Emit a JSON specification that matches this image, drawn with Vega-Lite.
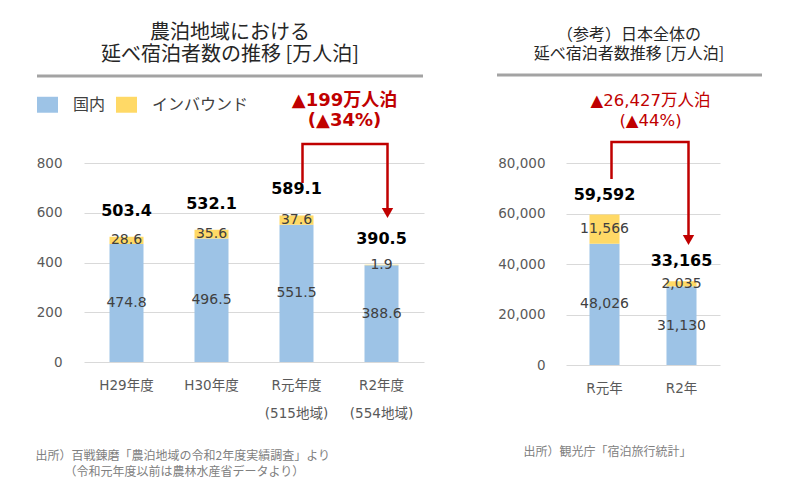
{
  "$schema": "https://vega.github.io/schema/vega-lite/v6.json",
  "padding": {"left": 35, "top": 22, "right": 5, "bottom": 5},
  "background": "white",
  "config": {
    "view": {"stroke": null},
    "font": "DejaVu Sans, Noto Sans CJK JP",
    "axis": {"domain": false, "ticks": false, "labelFont": "DejaVu Sans, Noto Sans CJK JP", "labelFontSize": 13.5, "labelColor": "#595959", "gridColor": "#D9D9D9", "gridWidth": 1.2}
  },
  "datasets": {
    "np": [
      {"cat": "H29年度", "type": "国内", "value": 474.8},
      {"cat": "H29年度", "type": "インバウンド", "value": 28.6},
      {"cat": "H30年度", "type": "国内", "value": 496.5},
      {"cat": "H30年度", "type": "インバウンド", "value": 35.6},
      {"cat": "R元年度|(515地域)", "type": "国内", "value": 551.5},
      {"cat": "R元年度|(515地域)", "type": "インバウンド", "value": 37.6},
      {"cat": "R2年度|(554地域)", "type": "国内", "value": 388.6},
      {"cat": "R2年度|(554地域)", "type": "インバウンド", "value": 1.9}
    ],
    "npArrow": [
      {"cat": "R元年度|(515地域)", "v": 720, "step": 1},
      {"cat": "R元年度|(515地域)", "v": 876, "step": 2},
      {"cat": "R2年度|(554地域)", "v": 876, "step": 3},
      {"cat": "R2年度|(554地域)", "v": 612, "step": 4}
    ],
    "npHead": [{"cat": "R2年度|(554地域)", "v": 599}],
    "npNote": [
      {"cat": "R元年度|(515地域)", "v": 1049, "label": "▲199万人泊"},
      {"cat": "R元年度|(515地域)", "v": 969, "label": "(▲34%)"}
    ],
    "jp": [
      {"cat": "R元年", "type": "国内", "value": 48026},
      {"cat": "R元年", "type": "インバウンド", "value": 11566},
      {"cat": "R2年", "type": "国内", "value": 31130},
      {"cat": "R2年", "type": "インバウンド", "value": 2035}
    ],
    "jpArrow": [
      {"cat": "R元年", "v": 73660, "step": 1},
      {"cat": "R元年", "v": 88310, "step": 2},
      {"cat": "R2年", "v": 88310, "step": 3},
      {"cat": "R2年", "v": 50690, "step": 4}
    ],
    "jpHead": [{"cat": "R2年", "v": 49500}],
    "jpNote": [
      {"cat": "R元年", "v": 104554, "label": "▲26,427万人泊"},
      {"cat": "R元年", "v": 96634, "label": "(▲44%)"}
    ]
  },
  "spacing": 142,
  "bounds": "flush",
  "resolve": {"scale": {"color": "independent"}, "legend": {"color": "independent"}},
  "hconcat": [
    {
      "width": 340,
      "height": 199,
      "title": {"text": ["農泊地域における", "延べ宿泊者数の推移 [万人泊]"], "font": "Noto Sans CJK JP", "fontSize": 20, "fontWeight": "normal", "color": "#262626", "lineHeight": 22, "anchor": "middle", "dx": -24, "offset": 10},
      "encoding": {
        "x": {"field": "cat", "type": "nominal", "sort": null,
          "scale": {"domain": ["H29年度", "H30年度", "R元年度|(515地域)", "R2年度|(554地域)"], "paddingInner": 0.6, "paddingOuter": 0.3},
          "axis": {"labelExpr": "split(datum.label, '|')", "labelLineHeight": 28, "labelPadding": 16, "labelAngle": 0, "labelBaseline": "top",
            "title": "出所）百戦錬磨「農泊地域の令和2年度実績調査」より",
            "titleAnchor": "start", "titleAlign": "left", "titleBaseline": "top", "titleX": -49, "titleY": 88,
            "titleFont": "Noto Sans CJK JP", "titleFontSize": 12, "titleFontWeight": "normal", "titleColor": "#808080"}}
      },
      "layer": [
        {
          "data": {"name": "np"},
          "mark": {"type": "bar"},
          "encoding": {
            "y": {"field": "value", "type": "quantitative", "stack": "zero",
              "scale": {"domain": [0, 800], "nice": false},
              "axis": {"values": [0, 200, 400, 600, 800], "labelPadding": 22, "grid": true,
                "title": "（令和元年度以前は農林水産省データより）",
                "titleAngle": 0, "titleAnchor": "start", "titleAlign": "left", "titleBaseline": "top", "titleX": -20, "titleY": 303,
                "titleFont": "Noto Sans CJK JP", "titleFontSize": 12, "titleFontWeight": "normal", "titleColor": "#808080"}},
            "color": {"field": "type", "type": "nominal",
              "scale": {"domain": ["国内", "インバウンド"], "range": ["#9DC3E6", "#FFD966"]},
              "legend": {"orient": "none", "legendX": -47, "legendY": -69, "direction": "horizontal", "title": null,
                "symbolType": "M-1,-0.76H1V0.76H-1Z", "symbolSize": 441, "symbolStrokeWidth": 0, "symbolOpacity": 1,
                "labelFont": "Noto Sans CJK JP", "labelFontSize": 16, "labelColor": "#404040", "labelOffset": 15, "columnPadding": 10}},
            "order": {"field": "type", "sort": "descending"}
          }
        },
        {
          "data": {"name": "np"},
          "mark": {"type": "text", "fontSize": 14, "color": "#404040", "baseline": "middle"},
          "encoding": {
            "y": {"field": "value", "type": "quantitative", "stack": "zero", "bandPosition": 0.5},
            "detail": {"field": "type"},
            "order": {"field": "type", "sort": "descending"},
            "text": {"field": "value", "type": "quantitative", "format": ".1f"}
          }
        },
        {
          "data": {"name": "np"},
          "mark": {"type": "text", "fontSize": 16, "fontWeight": "bold", "color": "#000000", "baseline": "middle", "dy": -26},
          "encoding": {
            "y": {"aggregate": "sum", "field": "value", "type": "quantitative"},
            "text": {"aggregate": "sum", "field": "value", "type": "quantitative", "format": ".1f"}
          }
        },
        {
          "data": {"name": "npArrow"},
          "mark": {"type": "line", "color": "#C00000", "strokeWidth": 2.5, "xOffset": 6},
          "encoding": {
            "y": {"field": "v", "type": "quantitative"},
            "order": {"field": "step", "type": "quantitative"}
          }
        },
        {
          "data": {"name": "npHead"},
          "mark": {"type": "point", "shape": "triangle-down", "filled": true, "color": "#C00000", "opacity": 1, "size": 130, "xOffset": 6},
          "encoding": {
            "y": {"field": "v", "type": "quantitative"}
          }
        },
        {
          "data": {"name": "npNote"},
          "mark": {"type": "text", "fontSize": 18, "fontWeight": "bold", "color": "#C00000", "baseline": "middle", "dx": 48},
          "encoding": {
            "y": {"field": "v", "type": "quantitative"},
            "text": {"field": "label"}
          }
        },
        {
          "data": {"values": [{}]},
          "mark": {"type": "rule", "color": "#A3A3A3", "strokeWidth": 3},
          "encoding": {"x": {"value": -47}, "x2": {"value": 339}, "y": {"value": -87}}
        }
      ]
    },
    {
      "width": 154,
      "height": 202,
      "title": {"text": ["（参考）日本全体の", "延べ宿泊者数推移 [万人泊]"], "font": "Noto Sans CJK JP", "fontSize": 16, "fontWeight": "normal", "color": "#262626", "lineHeight": 19, "anchor": "middle", "dx": -14, "offset": 12},
      "encoding": {
        "x": {"field": "cat", "type": "nominal", "sort": null,
          "scale": {"domain": ["R元年", "R2年"], "paddingInner": 0.61, "paddingOuter": 0.305},
          "axis": {"labelPadding": 16, "labelAngle": 0, "labelBaseline": "top",
            "title": "出所）観光庁「宿泊旅行統計」",
            "titleAnchor": "start", "titleAlign": "left", "titleBaseline": "top", "titleX": -43, "titleY": 81,
            "titleFont": "Noto Sans CJK JP", "titleFontSize": 12, "titleFontWeight": "normal", "titleColor": "#808080"}}
      },
      "layer": [
        {
          "data": {"name": "jp"},
          "mark": {"type": "bar"},
          "encoding": {
            "y": {"field": "value", "type": "quantitative", "stack": "zero",
              "scale": {"domain": [0, 80000], "nice": false},
              "axis": {"title": null, "values": [0, 20000, 40000, 60000, 80000], "format": ",", "labelExpr": "format(datum.value, ',')", "labelPadding": 21, "grid": true}},
            "color": {"field": "type", "type": "nominal",
              "scale": {"domain": ["国内", "インバウンド"], "range": ["#9DC3E6", "#FFD966"]},
              "legend": null},
            "order": {"field": "type", "sort": "descending"}
          }
        },
        {
          "data": {"name": "jp"},
          "mark": {"type": "text", "fontSize": 14, "color": "#404040", "baseline": "middle"},
          "encoding": {
            "y": {"field": "value", "type": "quantitative", "stack": "zero", "bandPosition": 0.5, "axis": {"format": ",", "labelExpr": "format(datum.value, ',')"}},
            "detail": {"field": "type"},
            "order": {"field": "type", "sort": "descending"},
            "text": {"field": "value", "type": "quantitative", "format": ","}
          }
        },
        {
          "data": {"name": "jp"},
          "mark": {"type": "text", "fontSize": 16, "fontWeight": "bold", "color": "#000000", "baseline": "middle", "dy": -20},
          "encoding": {
            "y": {"aggregate": "sum", "field": "value", "type": "quantitative", "axis": {"format": ",", "labelExpr": "format(datum.value, ',')"}},
            "text": {"aggregate": "sum", "field": "value", "type": "quantitative", "format": ","}
          }
        },
        {
          "data": {"name": "jpArrow"},
          "mark": {"type": "line", "color": "#C00000", "strokeWidth": 2.5, "xOffset": 7},
          "encoding": {
            "y": {"field": "v", "type": "quantitative", "axis": {"format": ",", "labelExpr": "format(datum.value, ',')"}},
            "order": {"field": "step", "type": "quantitative"}
          }
        },
        {
          "data": {"name": "jpHead"},
          "mark": {"type": "point", "shape": "triangle-down", "filled": true, "color": "#C00000", "opacity": 1, "size": 130, "xOffset": 7},
          "encoding": {
            "y": {"field": "v", "type": "quantitative", "axis": {"format": ",", "labelExpr": "format(datum.value, ',')"}}
          }
        },
        {
          "data": {"name": "jpNote"},
          "mark": {"type": "text", "fontSize": 16.5, "color": "#C00000", "baseline": "middle", "dx": 46},
          "encoding": {
            "y": {"field": "v", "type": "quantitative", "axis": {"format": ",", "labelExpr": "format(datum.value, ',')"}},
            "text": {"field": "label"}
          }
        },
        {
          "data": {"values": [{}]},
          "mark": {"type": "rule", "color": "#A3A3A3", "strokeWidth": 3},
          "encoding": {"x": {"value": -69}, "x2": {"value": 196}, "y": {"value": -88}}
        }
      ]
    }
  ]
}
